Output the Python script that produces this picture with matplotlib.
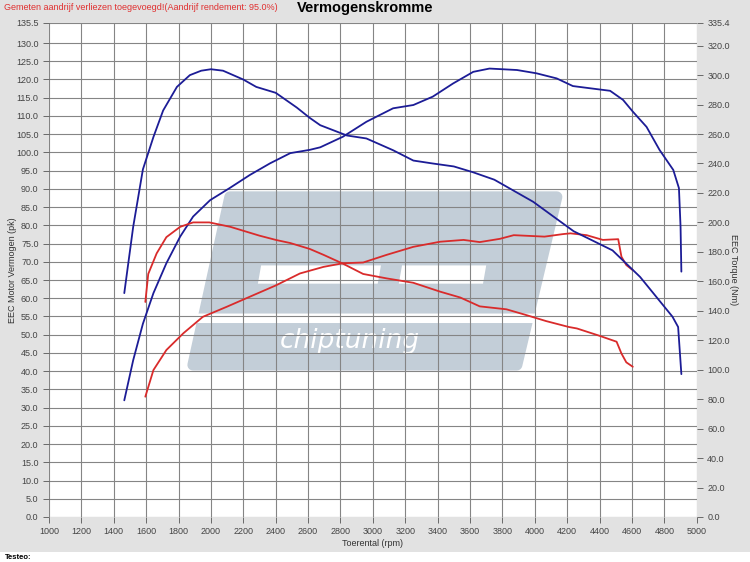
import matplotlib.pyplot as plt
from matplotlib.patches import Polygon, Rectangle
import numpy as np

plt.rcParams['font.family'] = ['Liberation Sans', 'DejaVu Sans']

rpm_pow_tuned = [1465, 1520, 1580, 1645, 1725, 1810, 1890, 1995, 2115, 2240, 2365, 2490, 2610, 2675,
                 2815, 2960, 3125, 3250, 3370, 3495, 3620, 3720, 3890, 4010, 4135, 4235, 4340, 4465,
                 4545, 4605, 4690, 4770, 4855, 4890, 4900, 4905]
pow_tuned = [32, 43, 53, 61.4, 69.6, 76.9, 82.4, 86.9, 90.2, 93.8, 97, 99.8, 100.7, 101.4,
             104.3, 108.4, 112.1, 113, 115.3, 118.9, 122.1, 123, 122.6, 121.7, 120.3, 118.2, 117.6, 116.9,
             114.4, 111.2, 107, 100.7, 95.2, 90.2, 79.6, 67.3]

rpm_tq_tuned = [1465, 1520, 1580, 1645, 1705, 1790, 1870, 1940, 2000, 2075, 2200, 2280, 2400, 2530, 2610,
                2675, 2840, 2960, 3125, 3250, 3370, 3500, 3620, 3750, 3990, 4240, 4480, 4650, 4850,
                4885, 4905]
tq_tuned = [152, 197, 236, 258, 276, 292, 300, 303, 304, 303, 297, 292, 288, 278, 271,
            266, 259, 257, 249, 242, 240, 238, 234, 229, 214, 194, 181, 163, 136,
            129, 97]

rpm_pow_stock = [1595, 1645, 1725, 1830, 1950, 2100, 2260, 2400, 2550, 2695, 2815, 2940, 3085, 3250,
                 3415, 3560, 3660, 3785, 3870, 4060, 4175, 4220, 4320, 4420, 4515, 4535, 4565, 4605]
pow_stock = [33, 40.3, 45.8, 50.4, 54.9, 57.7, 60.8, 63.5, 66.8, 68.6, 69.6, 69.8, 71.9, 74.1,
             75.5, 76, 75.4, 76.3, 77.3, 76.9, 77.6, 77.8, 77.3, 76, 76.2, 71.4, 69.1, 67.7]

rpm_tq_stock = [1595, 1613, 1665, 1725, 1810, 1890, 1990, 2120, 2300, 2405, 2490, 2610, 2695, 2815,
                2940, 3085, 3250, 3415, 3540, 3660, 3825, 3950, 4070, 4210, 4260, 4400, 4505, 4535,
                4565, 4605]
tq_stock = [146, 165, 179, 190, 197, 200, 200, 197, 191, 188, 186, 182, 178, 172,
            165, 162, 159, 153, 149, 143, 141, 137, 133, 129, 128, 123, 119, 111,
            105, 102]

left_ticks = list(np.arange(0, 131, 5)) + [135.5]
right_ticks = list(np.arange(0, 321, 20)) + [335.4]
x_ticks = list(range(1000, 5001, 200))

blue = '#1c1c96'
red = '#d92b2b'

fig = plt.figure(figsize=(7.5, 5.62), dpi=100, facecolor='#e2e2e2')
ax = fig.add_axes([0.0653, 0.0801, 0.8637, 0.879])
ax.set_facecolor('white')
ax2 = ax.twinx()

# watermark logo
logo = Polygon([(2117, 87.8), (4136, 87.8), (3889, 41.7), (1889, 41.7)], closed=True,
               facecolor='#c3ced8', edgecolor='#c3ced8', lw=8, joinstyle='round', zorder=0.5)
ax.add_patch(logo)
ax.add_patch(Polygon([(1850, 55.8), (4100, 55.8), (4080, 53.2), (1830, 53.2)],
                     facecolor='white', edgecolor='none', zorder=0.6))
ax.add_patch(Polygon([(2310, 69.0), (3050, 69.0), (3030, 64.0), (2290, 64.0)],
                     facecolor='white', edgecolor='none', zorder=0.6))
ax.add_patch(Polygon([(3180, 69.0), (3700, 69.0), (3680, 64.0), (3160, 64.0)],
                     facecolor='white', edgecolor='none', zorder=0.6))
ax.text(2860, 48.2, 'chiptuning', color='white', fontsize=19, style='italic',
        ha='center', va='center', zorder=0.7, family='DejaVu Sans', fontweight='light')

kw = dict(lw=1.3, solid_joinstyle='round', solid_capstyle='round')
ax.plot(rpm_pow_tuned, pow_tuned, color=blue, zorder=3, **kw)
ax.plot(rpm_pow_stock, pow_stock, color=red, zorder=3, **kw)
ax2.plot(rpm_tq_tuned, tq_tuned, color=blue, **kw)
ax2.plot(rpm_tq_stock, tq_stock, color=red, **kw)

ax.set_xlim(1000, 5000)
ax.set_ylim(0, 135.5)
ax2.set_ylim(0, 335.4)
ax.set_xticks(x_ticks)
ax.set_xticklabels([str(v) for v in x_ticks])
ax.set_yticks(left_ticks)
ax.set_yticklabels(['%.1f' % v for v in left_ticks])
ax2.set_yticks(right_ticks)
ax2.set_yticklabels(['%.1f' % v for v in right_ticks])

ax.grid(True, color='#858585', lw=0.8, zorder=1)
ax.set_axisbelow(False)
for a in (ax, ax2):
    for s in a.spines.values():
        s.set_visible(False)
ax.tick_params(axis='both', labelsize=6.5, colors='#555555', labelcolor='#444444', length=4, width=0.6)
ax2.tick_params(axis='y', labelsize=6.5, colors='#555555', labelcolor='#444444', length=4, width=0.6)

ax.set_xlabel('Toerental (rpm)', fontsize=6.5, color='#333333')
ax.xaxis.set_label_coords(0.5, -0.045)
ax.set_ylabel('EEC Motor Vermogen (pk)', fontsize=6.5, color='#333333', va='center')
ax.yaxis.set_label_coords(-0.057, 0.5)
ax2.set_ylabel('EEC Torque (Nm)', fontsize=6.5, color='#333333', rotation=270, va='center')
ax2.yaxis.set_label_coords(1.056, 0.5)

fig.text(0.006, 0.995, 'Gemeten aandrijf verliezen toegevoegd!(Aandrijf rendement: 95.0%)',
         color='#e03030', fontsize=6.5, ha='left', va='top')
fig.text(0.487, 0.999, 'Vermogenskromme', fontsize=10.5, fontweight='bold', ha='center', va='top')

fig.patches.append(Rectangle((0, 0), 1, 0.017, transform=fig.transFigure,
                             facecolor='white', edgecolor='none', zorder=0))
fig.text(0.006, 0.002, 'Testeo:', fontsize=5.5, fontweight='bold', ha='left', va='bottom')

plt.savefig('out.png', dpi=100, facecolor=fig.get_facecolor())
